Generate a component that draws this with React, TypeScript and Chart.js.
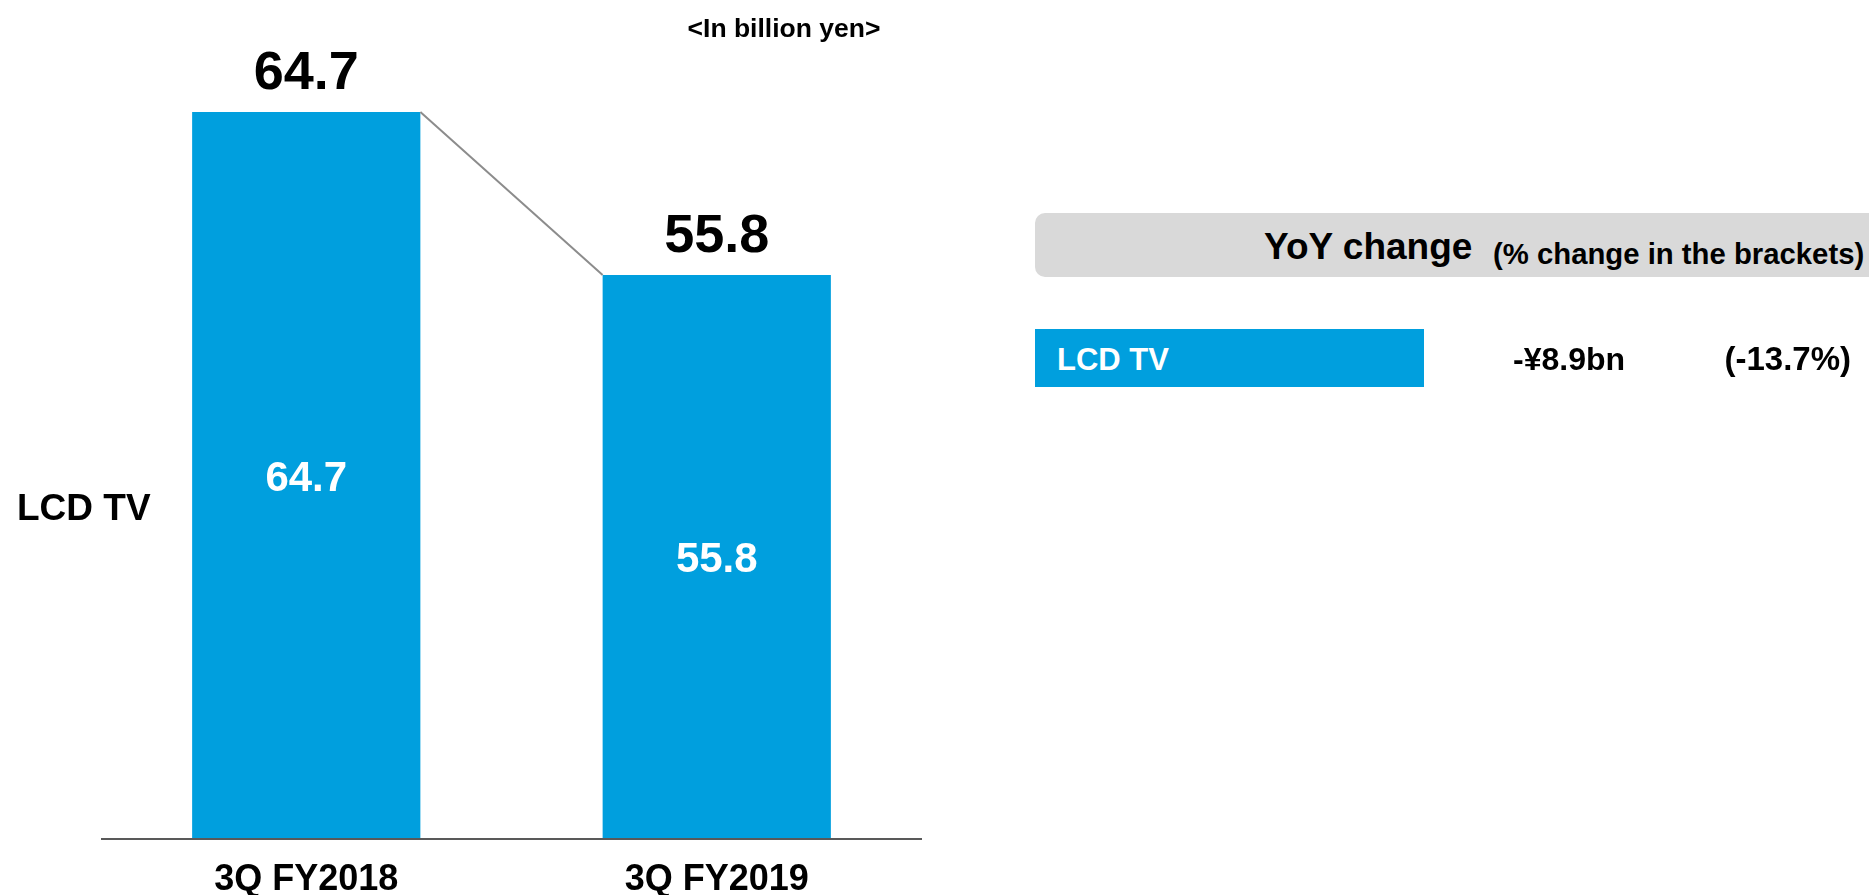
import React, { useEffect, useRef } from "react";
import { Chart, registerables } from "chart.js";

Chart.register(...registerables);

const categories = ["3Q FY2018", "3Q FY2019"];
const seriesName = "LCD TV";
const values = [64.7, 55.8];
const yMin = 25;
const yMax = 70;
const unitLabel = "<In billion yen>";
const panelTitle = "YoY change";
const panelSubtitle = "(% change in the brackets)";
const changeAmount = "-¥8.9bn";
const changePercent = "(-13.7%)";

const FONT = "'Liberation Sans', Arial, sans-serif";
const BLUE = "#009FDE";

const overlayPlugin = {
  id: "overlay",
  afterDatasetsDraw(chart: any) {
    const ctx = chart.ctx;
    const meta = chart.getDatasetMeta(0);
    const area = chart.chartArea;
    const bars = meta.data;
    ctx.save();
    // connector line between bar tops
    if (bars.length >= 2) {
      const a = bars[0];
      const b = bars[1];
      ctx.strokeStyle = "#8C8C8C";
      ctx.lineWidth = 2;
      ctx.beginPath();
      ctx.moveTo(a.x + a.width / 2, a.y);
      ctx.lineTo(b.x - b.width / 2, b.y);
      ctx.stroke();
    }
    // baseline
    ctx.strokeStyle = "#595959";
    ctx.lineWidth = 2;
    ctx.beginPath();
    ctx.moveTo(area.left, area.bottom);
    ctx.lineTo(area.right, area.bottom);
    ctx.stroke();
    // labels
    ctx.textAlign = "center";
    ctx.textBaseline = "alphabetic";
    bars.forEach((bar: any, i: number) => {
      const v = chart.data.datasets[0].data[i];
      const txt = v.toFixed(1);
      ctx.fillStyle = "#000";
      ctx.font = `bold 54px ${FONT}`;
      ctx.fillText(txt, bar.x, bar.y - 23);
      ctx.fillStyle = "#FFFFFF";
      ctx.font = `bold 42px ${FONT}`;
      const mid = (bar.y + bar.base) / 2;
      ctx.fillText(txt, bar.x, mid + 15);
    });
    // series name on the left
    ctx.fillStyle = "#000";
    ctx.textAlign = "left";
    ctx.font = `bold 37px ${FONT}`;
    ctx.fillText(chart.data.datasets[0].label, 17, 520);
    ctx.restore();
  },
};

export default function App() {
  const canvasRef = useRef<HTMLCanvasElement | null>(null);

  useEffect(() => {
    document.body.style.margin = "0";
    const canvas = canvasRef.current;
    if (!canvas) return;
    const chart = new Chart(canvas, {
      type: "bar",
      data: {
        labels: categories,
        datasets: [
          {
            label: seriesName,
            data: values,
            backgroundColor: BLUE,
            barPercentage: 0.556,
            categoryPercentage: 1,
            base: yMin,
          },
        ],
      },
      options: {
        animation: false,
        responsive: false,
        devicePixelRatio: 1,
        layout: { padding: { left: 101, right: 947, top: 15, bottom: 0 } },
        plugins: {
          legend: { display: false },
          tooltip: { enabled: false },
        },
        scales: {
          y: { display: false, min: yMin, max: yMax },
          x: {
            grid: { display: false, drawTicks: false },
            border: { display: false },
            ticks: {
              color: "#000",
              padding: 23,
              font: { family: FONT, size: 36, weight: "bold", lineHeight: 1 },
            },
            afterFit: (s: any) => {
              s.height = 56;
            },
          },
        },
      },
      plugins: [overlayPlugin],
    });
    return () => chart.destroy();
  }, []);

  const txt = (style: React.CSSProperties): React.CSSProperties => ({
    position: "absolute",
    fontFamily: FONT,
    fontWeight: "bold",
    lineHeight: 1,
    whiteSpace: "nowrap",
    color: "#000",
    ...style,
  });

  return (
    <div style={{ position: "relative", width: 1869, height: 895, overflow: "hidden", background: "#fff" }}>
      <canvas ref={canvasRef} width={1869} height={895} style={{ position: "absolute", left: 0, top: 0 }} />
      <div style={txt({ left: 784, top: 37 - 26.5 * 0.8465, fontSize: 26.5, transform: "translateX(-50%)" })}>{unitLabel}</div>
      <div
        style={{
          position: "absolute",
          left: 1035,
          top: 213,
          width: 845,
          height: 64,
          background: "#D9D9D9",
          borderRadius: 10,
        }}
      />
      <div style={txt({ left: 1264, top: 259 - 37 * 0.8465, fontSize: 37 })}>{panelTitle}</div>
      <div style={txt({ left: 1493, top: 264 - 29.3 * 0.8465, fontSize: 29.3 })}>{panelSubtitle}</div>
      <div style={{ position: "absolute", left: 1035, top: 329, width: 389, height: 58, background: BLUE }} />
      <div style={txt({ left: 1057, top: 370 - 31 * 0.8465, fontSize: 31, color: "#fff" })}>{seriesName}</div>
      <div style={txt({ left: 1513, top: 370 - 32 * 0.8465, fontSize: 32 })}>{changeAmount}</div>
      <div style={txt({ right: 1869 - 1851, top: 370 - 33 * 0.8465, fontSize: 33 })}>{changePercent}</div>
    </div>
  );
}
